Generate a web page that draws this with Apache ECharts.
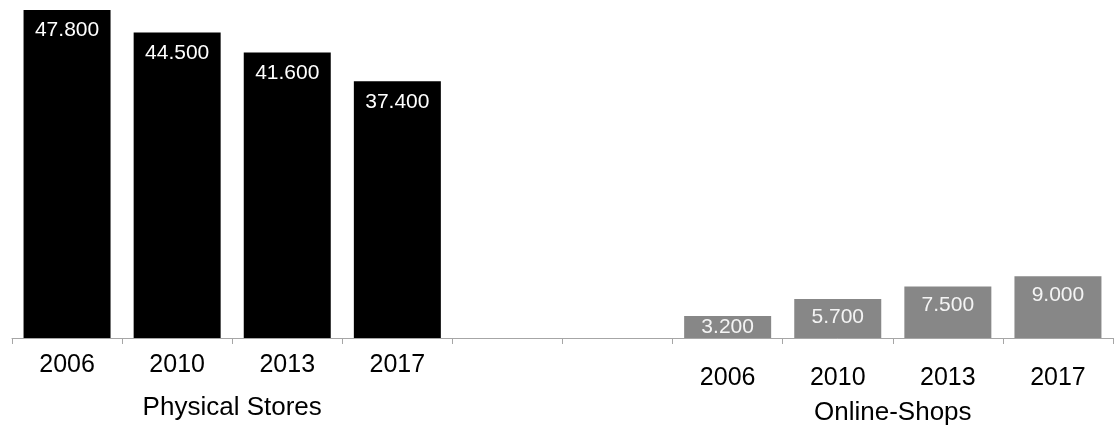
<!DOCTYPE html>
<html>
<head>
<meta charset="utf-8">
<script src="https://cdn.jsdelivr.net/npm/echarts@6/dist/echarts.min.js"></script>
<style>
  html, body { margin: 0; padding: 0; background: #ffffff; }
  #chart { width: 1116px; height: 426px; }
</style>
</head>
<body>
<div id="chart"></div>
<script>
// Year slots along the axis: four store years, two empty spacer slots, four online years
const yearLabels = ['2006', '2010', '2013', '2017', '', '', '2006', '2010', '2013', '2017'];
const groupNames = ['Physical Stores', 'Online-Shops'];
// Number of businesses per year
const physicalValues = [47800, 44500, 41600, 37400];
const onlineValues = [3200, 5700, 7500, 9000];

const FONT = 'Liberation Sans, Arial, Helvetica, sans-serif';
const gap = ['-', '-'];
const physicalData = physicalValues.concat(gap, onlineValues.map(() => '-'));
const onlineData = physicalValues.map(() => '-').concat(gap, onlineValues.map(v => ({
  value: v,
  // short bars keep their label centred inside the bar
  label: v < 4000 ? { position: 'inside' } : undefined
})));

function fmt(v) {
  return String(v).replace(/\B(?=(\d{3})+(?!\d))/g, '.');
}

const chart = echarts.init(document.getElementById('chart'), null, { renderer: 'canvas' });
chart.setOption({
  animation: false,
  grid: { left: 12, right: 3, top: 0, bottom: 85, containLabel: false },
  xAxis: [
    {
      type: 'category',
      data: yearLabels,
      axisLine: { lineStyle: { color: '#a6a6a6', width: 1 } },
      axisTick: { show: true, length: 6, lineStyle: { color: '#a6a6a6' } },
      axisLabel: {
        interval: 0,
        margin: 15,
        formatter: (val, idx) => idx >= 6 ? '{on|' + val + '}' : '{ph|' + val + '}',
        rich: {
          ph: { fontSize: 25, fontFamily: FONT, color: '#000', lineHeight: 25 },
          on: { fontSize: 25, fontFamily: FONT, color: '#000', lineHeight: 25, padding: [26, 0, 0, 0] }
        }
      }
    },
    {
      // group captions placed under the middle of each block of years
      type: 'value',
      position: 'bottom',
      min: 0,
      max: 10,
      interval: 1,
      axisLine: { show: false },
      axisTick: { show: false },
      splitLine: { show: false },
      axisLabel: {
        margin: 57,
        showMinLabel: true,
        showMaxLabel: true,
        formatter: v => v === 2 ? '{ph|' + groupNames[0] + '}' : (v === 8 ? '{on|' + groupNames[1] + '}' : ''),
        rich: {
          ph: { fontSize: 26, fontFamily: FONT, color: '#000', lineHeight: 26 },
          on: { fontSize: 26, fontFamily: FONT, color: '#000', lineHeight: 26, padding: [10, 0, 0, 0] }
        }
      }
    }
  ],
  yAxis: {
    type: 'value',
    min: 0,
    max: 49250,
    show: false,
    splitLine: { show: false }
  },
  series: [
    {
      name: 'Physical Stores',
      type: 'bar',
      stack: 'all',
      barWidth: 87,
      data: physicalData,
      itemStyle: { color: '#000000' },
      label: {
        show: true,
        position: 'insideTop',
        distance: 10,
        color: '#ffffff',
        fontSize: 21,
        fontFamily: FONT,
        formatter: p => fmt(p.value)
      }
    },
    {
      name: 'Online-Shops',
      type: 'bar',
      stack: 'all',
      barWidth: 87,
      data: onlineData,
      itemStyle: { color: '#878787' },
      label: {
        show: true,
        position: 'insideTop',
        distance: 8,
        color: '#f4f4f4',
        fontSize: 21,
        fontFamily: FONT,
        formatter: p => fmt(p.value)
      }
    }
  ]
});
</script>
</body>
</html>
